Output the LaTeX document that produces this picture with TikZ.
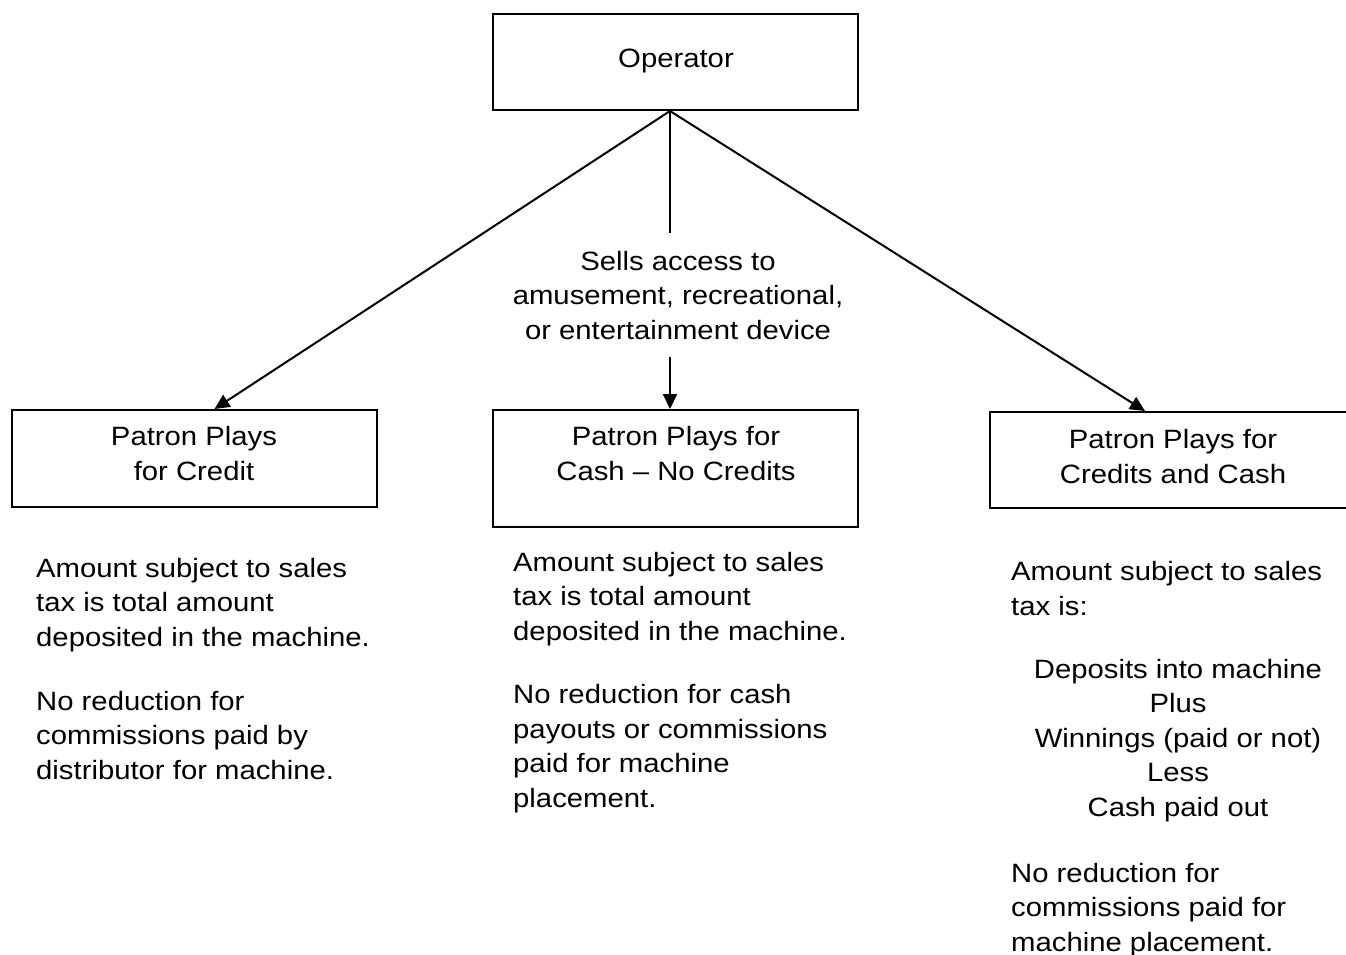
\documentclass[tikz,border=0pt]{standalone}
\usepackage{fontspec}
\setmainfont{Liberation Sans}[FakeStretch=1.105]
\usetikzlibrary{arrows.meta}
\tikzset{
  boxshape/.style={draw, line width=2pt, rectangle, inner sep=0pt},
  txt/.style={inner sep=0pt, font=\fontsize{26.5}{34.4}\selectfont},
  ctxt/.style={txt, align=center, anchor=base},
  ltxt/.style={txt, align=left, anchor=base west},
  conn/.style={line width=2pt},
  arr/.style={conn, -{Triangle[length=15pt,width=14pt]}}
}
\begin{document}
\begin{tikzpicture}[x=1pt,y=-1pt]
\useasboundingbox (0,0) rectangle (1346,954);
% boxes
\node[boxshape, minimum width=365pt, minimum height=96pt] (op) at (675.5,62) {};
\node[boxshape, minimum width=365pt, minimum height=97pt] (bl) at (194.5,458.5) {};
\node[boxshape, minimum width=365pt, minimum height=117pt] (bm) at (675.5,468.5) {};
\node[boxshape, minimum width=370pt, minimum height=96pt] (br) at (1175,460) {};
% box texts (base = baseline of last line)
\node[ctxt] (opt) at (676,67) {Operator};
\node[ctxt] (blt) at (194,480) {Patron Plays\\for Credit};
\node[ctxt] (bmt) at (676,480) {Patron Plays for\\Cash -- No Credits};
\node[ctxt] (brt) at (1173,483) {Patron Plays for\\Credits and Cash};
% middle label
\node[ctxt] (lab) at (678,339) {Sells access to\\amusement, recreational,\\or entertainment device};
% connector points
\coordinate (apex) at ([xshift=-5.5pt]op.south);
\coordinate (m1) at (apex |- 0,233);
\coordinate (m2) at (apex |- 0,357);
\coordinate (tl) at ([xshift=20pt]bl.north);
\coordinate (tm) at (apex |- bm.north);
\coordinate (tr) at (br.north -| 1145,0);
\draw[arr] (apex) -- (tl);
\draw[arr] (apex) -- (tr);
\draw[conn] (apex) -- (m1);
\draw[arr] (m2) -- (tm);
% left texts
\node[ltxt] (l1) at (36,646) {Amount subject to sales\\tax is total amount\\deposited in the machine.};
\node[ltxt] (l2) at (36,779) {No reduction for\\commissions paid by\\distributor for machine.};
% middle texts
\node[ltxt] (c1) at (513,640) {Amount subject to sales\\tax is total amount\\deposited in the machine.};
\node[ltxt] (c2) at (513,807) {No reduction for cash\\payouts or commissions\\paid for machine\\placement.};
% right texts
\node[ltxt] (r1) at (1011,615) {Amount subject to sales\\tax is:};
\node[ctxt] (r2) at (1178,816) {Deposits into machine\\Plus\\Winnings (paid or not)\\Less\\Cash paid out};
\node[ltxt] (r3) at (1011,951) {No reduction for\\commissions paid for\\machine placement.};
\end{tikzpicture}
\end{document}
